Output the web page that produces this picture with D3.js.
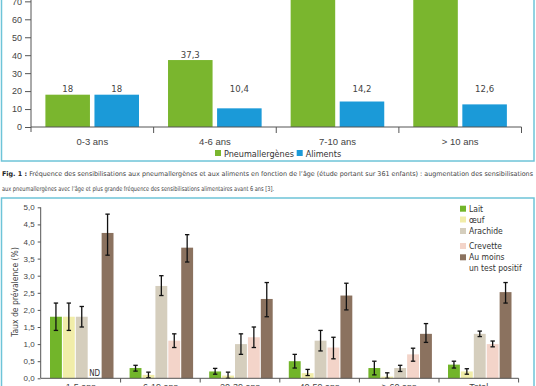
<!DOCTYPE html>
<html>
<head>
<meta charset="utf-8">
<title>Sensibilisations</title>
<style>
  body { margin: 0; background: #fff; }
  svg { display: block; font-family: "Liberation Sans Narrow", "DejaVu Sans Condensed", Roboto, sans-serif; }
  .frame { fill: none; stroke: #6ec4d8; stroke-width: 1.5; }
  .axis path, .axis line { stroke: #555; }
  .axis text { fill: #444; }
</style>
</head>
<body>
<svg width="536" height="386"></svg>
<script src="https://cdn.jsdelivr.net/npm/d3@7"></script>
<script>
// ---- figure 1 data
var agesTop = ["0-3 ans", "4-6 ans", "7-10 ans", "> 10 ans"];
var pneumo = [18, 37.3, 76, 78];          // last two run off the top of the crop
var aliments = [18, 10.4, 14.2, 12.6];
var topTicks = [0, 10, 20, 30, 40, 50, 60, 70];

// ---- figure 2 data
var ages = ["1-5 ans", "6-19 ans", "20-39 ans", "40-59 ans", "\u2265 60 ans", "Total"];
var allergens = ["Lait", "\u0153uf", "Arachide", "Crevette", "Au moins un test positif"];
var lait     = [1.8, 0.3, 0.2, 0.5, 0.3, 0.4];
var laitLo   = [1.4, 0.21, 0.12, 0.3, 0.1, 0.3];
var laitHi   = [2.2, 0.38, 0.29, 0.7, 0.5, 0.5];
var oeuf     = [1.8, 0.1, 0.08, 0.15, 0.05, 0.2];
var oeufLo   = [1.4, 0.02, 0.0, 0.08, 0.0, 0.12];
var oeufHi   = [2.2, 0.18, 0.18, 0.26, 0.16, 0.28];
var arachide   = [1.8, 2.7, 1.0, 1.1, 0.3, 1.3];
var arachideLo = [1.5, 2.42, 0.7, 0.8, 0.2, 1.22];
var arachideHi = [2.1, 3.0, 1.3, 1.4, 0.38, 1.38];
var crevette   = [null, 1.1, 1.2, 0.9, 0.7, 1.0];
var crevetteLo = [null, 0.9, 0.9, 0.57, 0.5, 0.92];
var crevetteHi = [null, 1.3, 1.5, 1.2, 0.88, 1.09];
var auMoins   = [4.25, 3.82, 2.32, 2.42, 1.3, 2.52];
var auMoinsLo = [3.6, 3.4, 1.8, 2.0, 1.05, 2.2];
var auMoinsHi = [4.8, 4.2, 2.8, 2.78, 1.6, 2.8];
var bottomTicks = [0, 0.5, 1, 1.5, 2, 2.5, 3, 3.5, 4, 4.5, 5];

var svg = d3.select("svg");
var fr = d3.format(".1f");
function comma(v) { return fr(v).replace(".", ","); }

// ================= Figure 1 =================
svg.append("rect").attr("class", "frame")
  .attr("x", 1.5).attr("y", -10).attr("width", 532.5).attr("height", 171);

var x = d3.scaleBand().domain(agesTop).range([31, 521.5]);
var xs = d3.scaleBand().domain(["p", "a"]).range([14.4, 108]).paddingInner(0.092);
var y = d3.scaleLinear().domain([0, 70]).range([127, 1.35]);
var topColor = { p: "#7ab62e", a: "#1b9ad8" };

var rows = agesTop.map(function(a, i) {
  return { age: a, vals: [{ k: "p", v: pneumo[i] }, { k: "a", v: aliments[i] }] };
});

var g1 = svg.append("g");
var grp = g1.selectAll("g.grp").data(rows).enter().append("g")
  .attr("class", "grp")
  .attr("transform", function(d) { return "translate(" + x(d.age) + ",0)"; });

grp.selectAll("rect").data(function(d) { return d.vals; }).enter().append("rect")
  .attr("x", function(d) { return xs(d.k); })
  .attr("width", xs.bandwidth())
  .attr("y", function(d) { return y(d.v); })
  .attr("height", function(d) { return y(0) - y(d.v); })
  .attr("fill", function(d) { return topColor[d.k]; });

// value labels (the ones above the crop are not drawn)
grp.selectAll("text.val").data(function(d) { return d.vals.filter(function(e) { return e.v < 65; }); })
  .enter().append("text")
  .attr("class", "val")
  .attr("x", function(d) { return xs(d.k) + xs.bandwidth() / 2; })
  .attr("y", function(d) { return y(Math.max(d.v, 18)) - 2.5; })
  .attr("text-anchor", "middle")
  .attr("font-size", 9.5)
  .attr("fill", "#444")
  .text(function(d) { return String(d.v).replace(".", ","); });

g1.append("g").attr("class", "axis")
  .attr("transform", "translate(31,0)")
  .call(d3.axisLeft(y).tickValues(topTicks).tickSize(6).tickPadding(3).tickFormat(d3.format("d")))
  .call(function(a) {
    a.select(".domain").attr("d", "M0,132V-10");
    a.selectAll("text").attr("font-size", 9);
  });

g1.append("g").attr("class", "axis")
  .attr("transform", "translate(0,127)")
  .call(d3.axisBottom(x).tickSize(0).tickPadding(11))
  .call(function(a) {
    a.select(".domain").attr("d", "M31,0H521.5");
    a.selectAll("text").attr("font-size", 9.5);
  });

// group separators on the x axis
g1.selectAll("line.sep").data(agesTop).enter().append("line")
  .attr("x1", function(d) { return x(d) + x.step(); })
  .attr("x2", function(d) { return x(d) + x.step(); })
  .attr("y1", 127).attr("y2", 133)
  .attr("stroke", "#555");

var leg1 = g1.selectAll("g.leg").data([["p", "Pneumallerg\u00e8nes", 215], ["a", "Aliments", 296.7]])
  .enter().append("g").attr("class", "leg");
leg1.append("rect")
  .attr("x", function(d) { return d[2]; }).attr("y", 150)
  .attr("width", 6).attr("height", 6)
  .attr("fill", function(d) { return topColor[d[0]]; });
leg1.append("text")
  .attr("x", function(d) { return d[2] + 9; }).attr("y", 156.5)
  .attr("font-size", 9).attr("fill", "#333")
  .text(function(d) { return d[1]; });

// caption
var cap = svg.append("g").attr("font-size", 6.6).attr("fill", "#444");
var l1 = cap.append("text").attr("x", 2).attr("y", 176)
  .attr("textLength", 531).attr("lengthAdjust", "spacingAndGlyphs");
l1.append("tspan").attr("font-weight", "bold").attr("fill", "#222").text("Fig. 1 : ");
l1.append("tspan").text("Fr\u00e9quence des sensibilisations aux pneumallerg\u00e8nes et aux aliments en fonction de l\u2019\u00e2ge (\u00e9tude portant sur 361 enfants) : augmentation des sensibilisations");
cap.append("text").attr("x", 2).attr("y", 190.5)
  .attr("textLength", 272).attr("lengthAdjust", "spacingAndGlyphs")
  .text("aux pneumallerg\u00e8nes avec l\u2019\u00e2ge et plus grande fr\u00e9quence des sensibilisations alimentaires avant 6 ans [3].");

// ================= Figure 2 =================
svg.append("rect").attr("class", "frame")
  .attr("x", 1.5).attr("y", 198).attr("width", 532.5).attr("height", 200);

var x0 = d3.scaleBand().domain(ages).range([41, 518.6]);
var x1 = d3.scaleBand().domain(allergens).range([9, 72.5]).paddingInner(0.08);
var y2 = d3.scaleLinear().domain([0, 5]).range([378.3, 207.3]);
var color = d3.scaleOrdinal().domain(allergens)
  .range(["#72b52a", "#f1eda9", "#d5cebd", "#f3d4c9", "#8b725f"]);

var series = [
  [lait, laitLo, laitHi],
  [oeuf, oeufLo, oeufHi],
  [arachide, arachideLo, arachideHi],
  [crevette, crevetteLo, crevetteHi],
  [auMoins, auMoinsLo, auMoinsHi]
];

var data2 = ages.map(function(a, i) {
  return { age: a, vals: allergens.map(function(k, j) {
    return { k: k, v: series[j][0][i], lo: series[j][1][i], hi: series[j][2][i] };
  }) };
});

var g2 = svg.append("g");

g2.append("g").attr("class", "axis")
  .attr("transform", "translate(40.7,0)")
  .call(d3.axisLeft(y2).tickValues(bottomTicks).tickSize(3).tickPadding(3).tickFormat(comma))
  .call(function(a) {
    a.select(".domain").attr("d", "M0,378.3V207.3");
    a.selectAll("text").attr("font-size", 8);
  });

var grp2 = g2.selectAll("g.grp2").data(data2).enter().append("g")
  .attr("class", "grp2")
  .attr("transform", function(d) { return "translate(" + x0(d.age) + ",0)"; });

grp2.selectAll("rect").data(function(d) { return d.vals.filter(function(e) { return e.v != null; }); })
  .enter().append("rect")
  .attr("x", function(d) { return x1(d.k); })
  .attr("width", x1.bandwidth())
  .attr("y", function(d) { return y2(d.v); })
  .attr("height", function(d) { return y2(0) - y2(d.v); })
  .attr("fill", function(d) { return color(d.k); });

var eb = grp2.selectAll("g.err").data(function(d) { return d.vals.filter(function(e) { return e.v != null; }); })
  .enter().append("g").attr("class", "err")
  .attr("stroke", "#111").attr("stroke-width", 1.3);
function cx(d) { return x1(d.k) + x1.bandwidth() / 2; }
eb.append("line")
  .attr("x1", cx).attr("x2", cx)
  .attr("y1", function(d) { return y2(d.lo); })
  .attr("y2", function(d) { return y2(d.hi); });
eb.selectAll("line.cap").data(function(d) { return [[d, d.lo], [d, d.hi]]; }).enter().append("line")
  .attr("class", "cap")
  .attr("x1", function(c) { return cx(c[0]) - 2.2; })
  .attr("x2", function(c) { return cx(c[0]) + 2.2; })
  .attr("y1", function(c) { return y2(c[1]); })
  .attr("y2", function(c) { return y2(c[1]); });

// ND where no value
grp2.selectAll("text.nd").data(function(d) { return d.vals.filter(function(e) { return e.v == null; }); })
  .enter().append("text").attr("class", "nd")
  .attr("x", function(d) { return x1(d.k) + x1.bandwidth() / 2; })
  .attr("y", y2(0) - 2)
  .attr("text-anchor", "middle")
  .attr("font-size", 8).attr("fill", "#333")
  .text("ND");

g2.append("g").attr("class", "axis")
  .attr("transform", "translate(0,378.3)")
  .call(d3.axisBottom(x0).tickSize(0).tickPadding(5))
  .call(function(a) {
    a.select(".domain").attr("d", "M41,0H518.6");
    a.selectAll("text").attr("font-size", 9);
  });

g2.selectAll("line.sep2").data(ages).enter().append("line")
  .attr("x1", function(d) { return x0(d) + x0.step(); })
  .attr("x2", function(d) { return x0(d) + x0.step(); })
  .attr("y1", 378.3).attr("y2", 382.5)
  .attr("stroke", "#555");

g2.append("text")
  .attr("transform", "translate(17.5,292) rotate(-90)")
  .attr("text-anchor", "middle")
  .attr("font-size", 8.5).attr("fill", "#444")
  .text("Taux de pr\u00e9valence (%)");

// legend
var legY = [208.7, 219.5, 231, 246, 257.3];
var leg2 = g2.selectAll("g.leg2").data(allergens).enter().append("g").attr("class", "leg2");
leg2.append("rect")
  .attr("x", 460).attr("y", function(d, i) { return legY[i] - 3; })
  .attr("width", 6).attr("height", 6)
  .attr("fill", function(d) { return color(d); });
leg2.append("text")
  .attr("x", 469).attr("y", function(d, i) { return legY[i] + 3; })
  .attr("font-size", 8.5).attr("fill", "#333")
  .each(function(d) {
    var parts = d === "Au moins un test positif" ? ["Au moins", "un test positif"] : [d];
    var t = d3.select(this);
    parts.forEach(function(p, i) {
      t.append("tspan").attr("x", 469).attr("dy", i ? 11 : 0).text(p);
    });
  });
</script>
</body>
</html>
